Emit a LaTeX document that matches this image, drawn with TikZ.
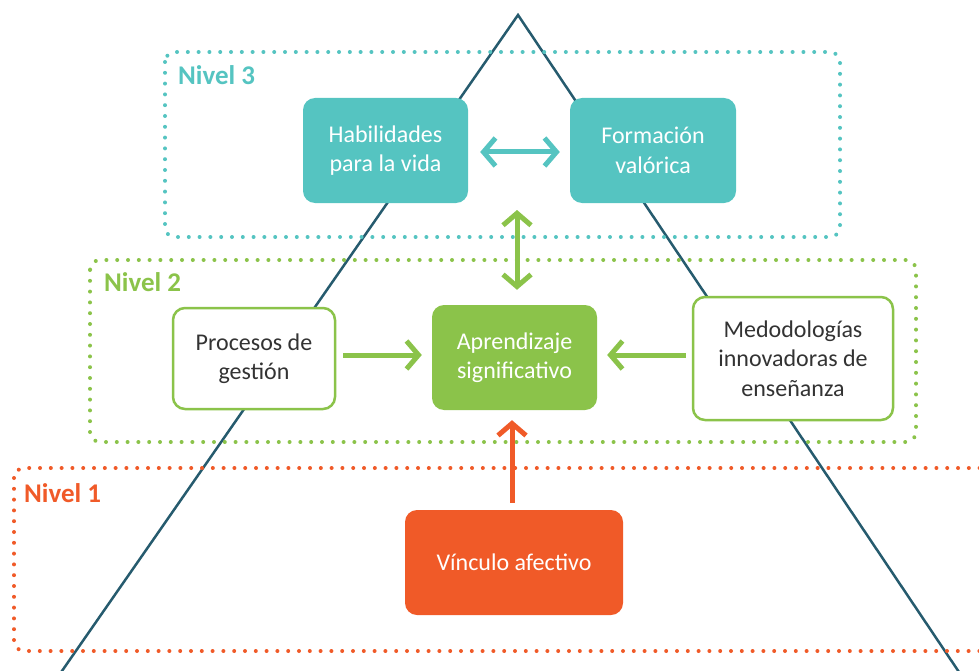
\documentclass[tikz,border=0pt]{standalone}
\usepackage{fontspec}
\setmainfont{Carlito}
\usetikzlibrary{arrows.meta}
\definecolor{tealc}{HTML}{55C4C1}
\definecolor{greenc}{HTML}{8BC34A}
\definecolor{orangec}{HTML}{F05A28}
\definecolor{navyc}{HTML}{265B6E}
\definecolor{textc}{HTML}{333333}
\begin{document}
\begin{tikzpicture}[x=1pt,y=-1pt,
  lvl/.style={line width=4pt, dash pattern=on 0pt off 10.8pt, line cap=round, rounded corners=10pt},
  boxtxt/.style={align=center, inner sep=0pt, font=\fontsize{24}{29.5}\selectfont},
  fillbox/.style={boxtxt, rounded corners=12pt, text=white},
  linebox/.style={boxtxt, rounded corners=12pt, fill=white, draw=greenc, line width=2.5pt, text=textc},
  lvllabel/.style={anchor=west, inner sep=0pt, font=\fontsize{27}{30}\selectfont\bfseries},
  arr/.style={line width=5pt, -{Straight Barb[length=12pt,width=28pt]}},
  darr/.style={line width=5pt, {Straight Barb[length=12pt,width=28pt]}-{Straight Barb[length=12pt,width=28pt]}}
]
\useasboundingbox (0,0) rectangle (979,671);
\begin{scope}
\clip (0,0) rectangle (979,671);
% pyramid
\draw[navyc, line width=2.5pt] (55,681) -- (518,15) -- (965,681);
% level frames
\draw[lvl, tealc] (165,52) rectangle (840,237);
\draw[lvl, greenc] (90,260) rectangle (916,442);
\draw[lvl, orangec] (14,468) rectangle (995,651);
\end{scope}
% level labels
\node[lvllabel, text=tealc] (n3) at (178,75) {Nivel 3};
\node[lvllabel, text=greenc] (n2) at (104,282) {Nivel 2};
\node[lvllabel, text=orangec] (n1) at (24,493) {Nivel 1};
% boxes
\node[fillbox, fill=tealc, minimum width=165pt, minimum height=105pt] (hab) at (385.5,150.5) {Habilidades\\para la vida};
\node[fillbox, fill=tealc, minimum width=166pt, minimum height=105pt] (for) at (653,150.5) {Formación\\valórica};
\node[linebox, minimum width=162pt, minimum height=101pt] (pro) at (254,358.5) {Procesos de\\gestión};
\node[fillbox, fill=greenc, minimum width=165pt, minimum height=105pt] (apr) at (514.5,357.5) {Aprendizaje\\significativo};
\node[linebox, minimum width=200pt, minimum height=123pt] (med) at (793,358.5) {Medodologías\\innovadoras de\\enseñanza};
\node[fillbox, fill=orangec, minimum width=218pt, minimum height=105pt] (vin) at (514,562.5) {Vínculo afectivo};
\coordinate (top3) at (517,210);
% connectors
\draw[darr, tealc] ([xshift=12pt,yshift=-1.5pt]hab.east) -- ([xshift=-10pt,yshift=-1.5pt]for.west);
\draw[darr, greenc] (top3) -- ([xshift=2.5pt,yshift=15pt]apr.north);
\draw[arr, greenc] ([xshift=7pt,yshift=3.5pt]pro.east) -- ([xshift=-10pt,yshift=2.5pt]apr.west);
\draw[arr, greenc] ([xshift=-6pt,yshift=3.5pt]med.west) -- ([xshift=10pt,yshift=2.5pt]apr.east);
\draw[arr, orangec] ([xshift=-2pt,yshift=7pt]vin.north) -- ([xshift=-2.5pt,yshift=-10pt]apr.south);
\end{tikzpicture}
\end{document}
